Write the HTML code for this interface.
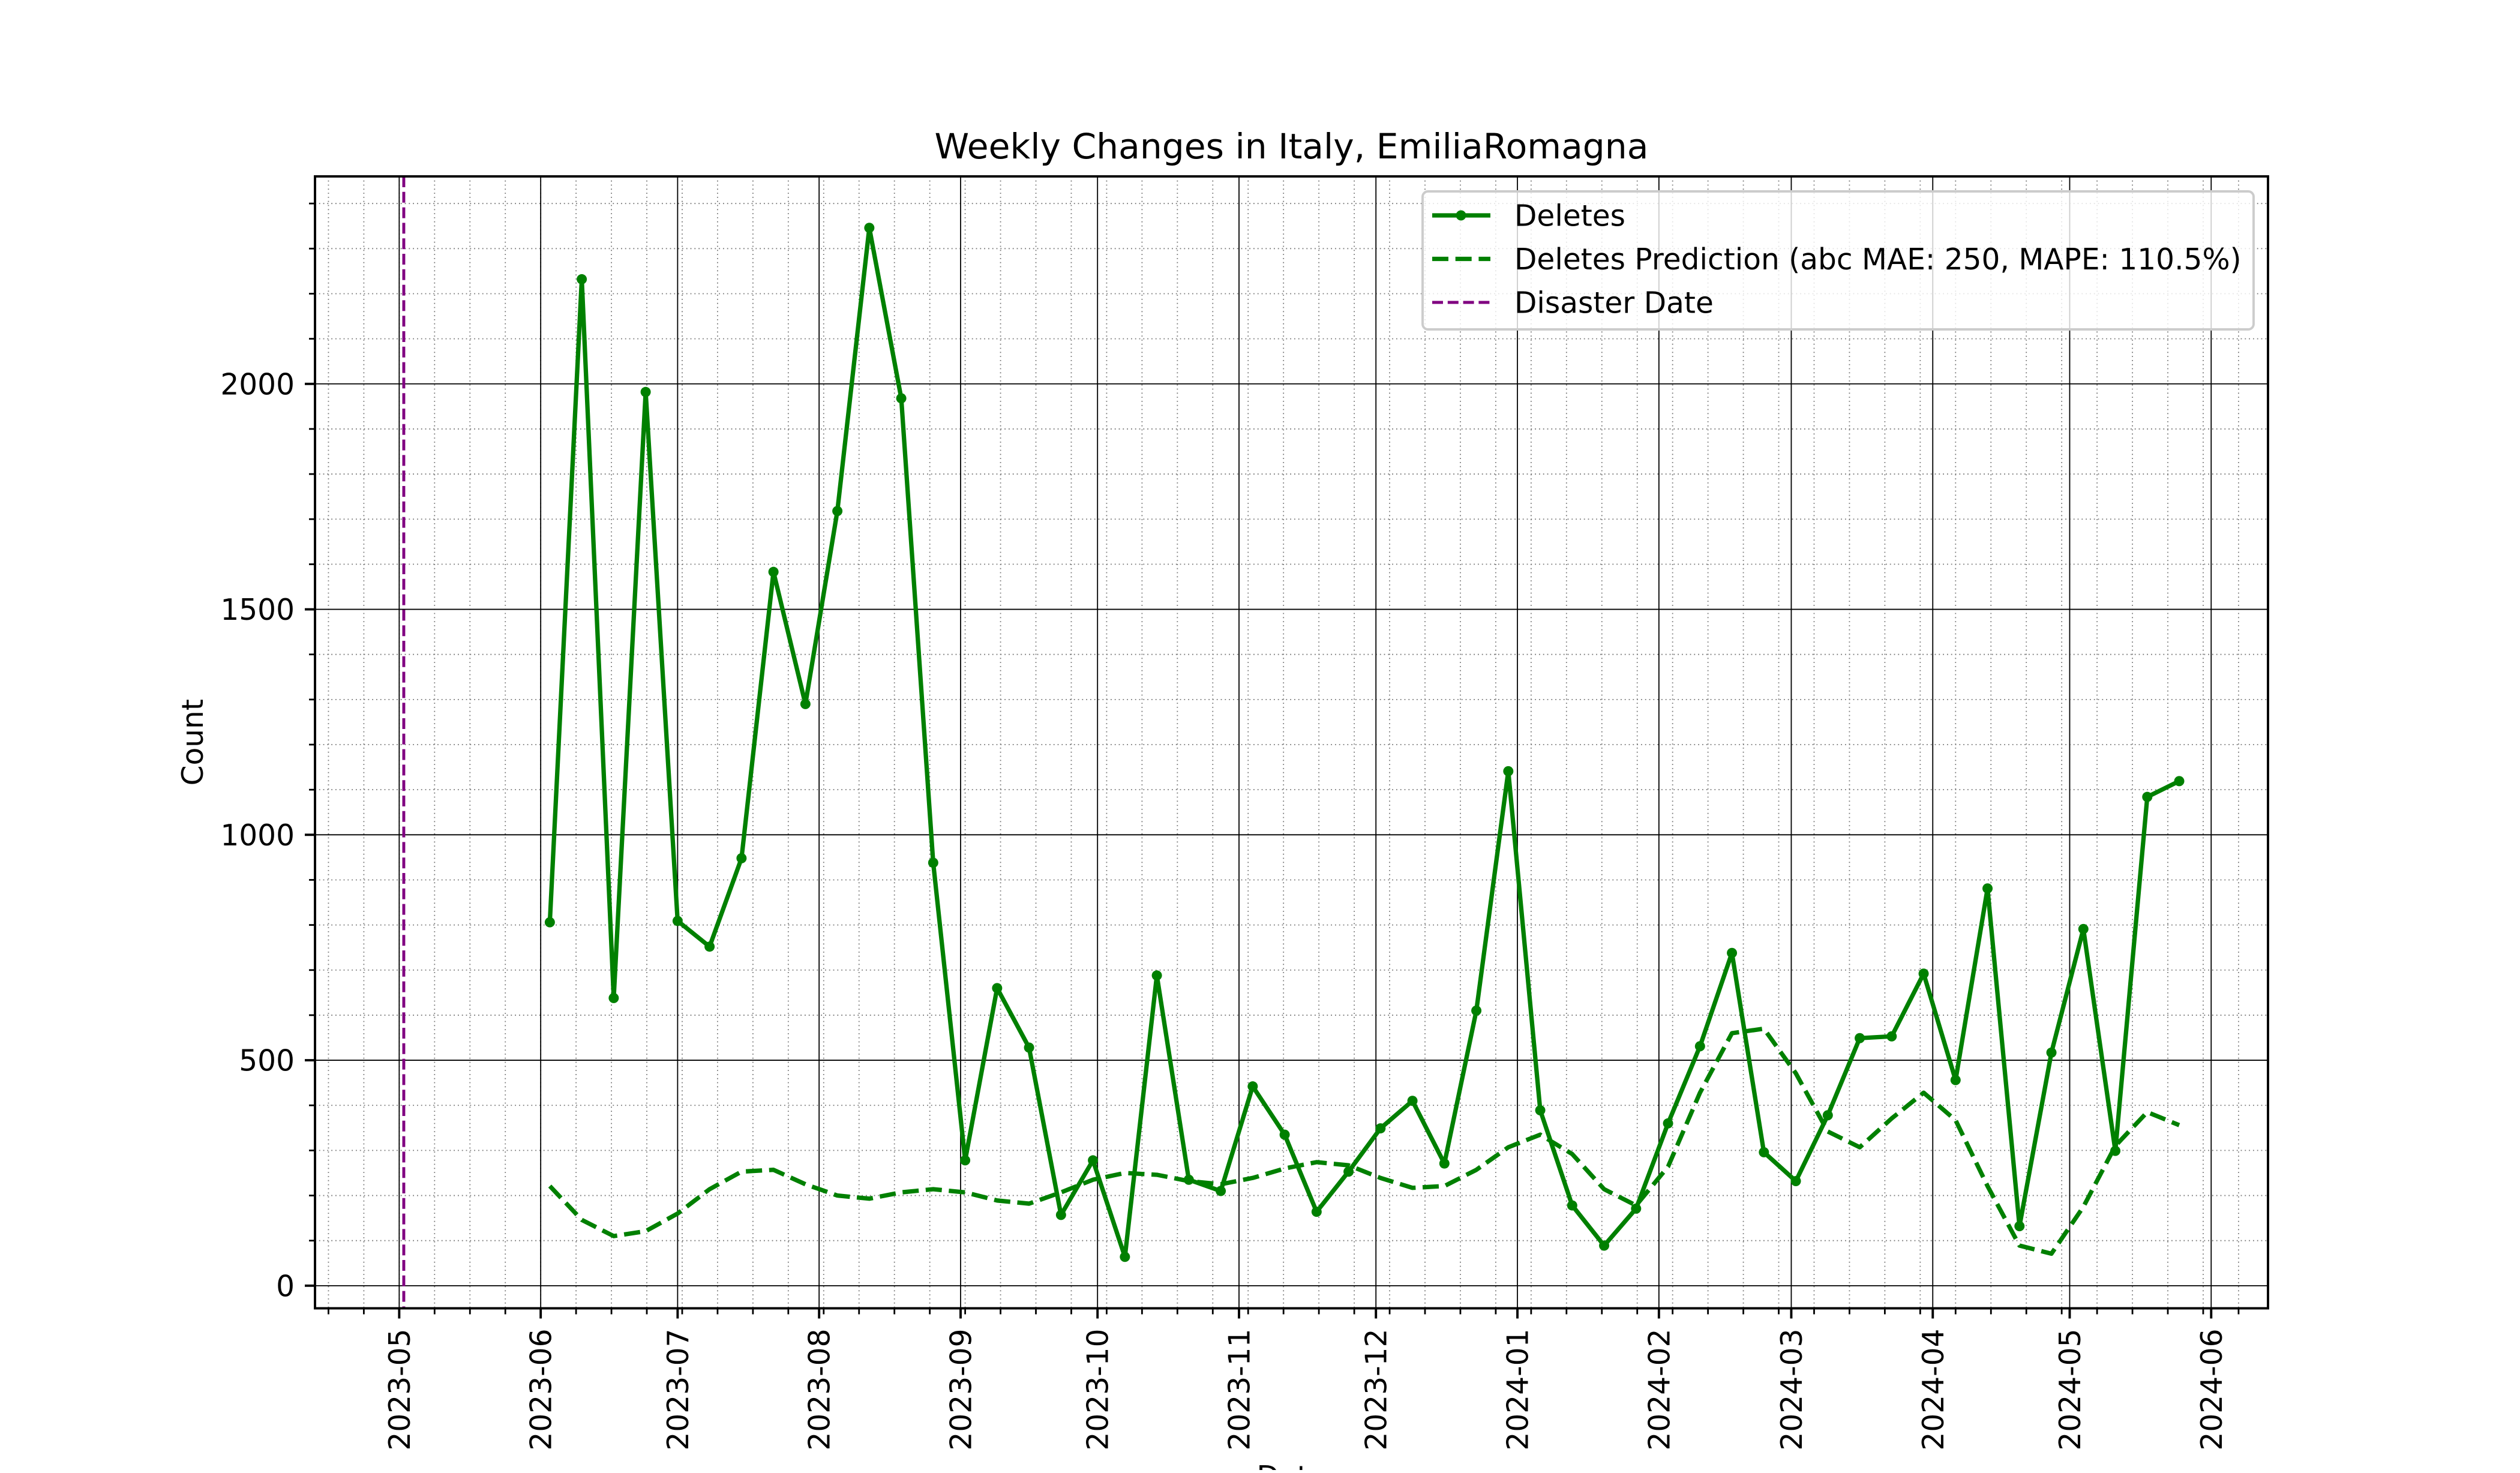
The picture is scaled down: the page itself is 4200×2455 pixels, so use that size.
<!DOCTYPE html>
<html><head><meta charset="utf-8"><style>
html,body{margin:0;padding:0;background:#fff;}
svg text{font-family:"DejaVu Sans","Liberation Sans",sans-serif;fill:#000;}
</style></head><body>
<svg id="chart" width="4200" height="2450" viewBox="0 0 4200 2450" xmlns="http://www.w3.org/2000/svg">
<rect x="0" y="0" width="4200" height="2450" fill="#fff"/>
<g id="grid"></g><g id="series"></g><g id="axes"></g><g id="legend"></g>
</svg>
<script>
const dates = ["2023-06-03","2023-06-10","2023-06-17","2023-06-24","2023-07-01","2023-07-08","2023-07-15","2023-07-22","2023-07-29","2023-08-05","2023-08-12","2023-08-19","2023-08-26","2023-09-02","2023-09-09","2023-09-16","2023-09-23","2023-09-30","2023-10-07","2023-10-14","2023-10-21","2023-10-28","2023-11-04","2023-11-11","2023-11-18","2023-11-25","2023-12-02","2023-12-09","2023-12-16","2023-12-23","2023-12-30","2024-01-06","2024-01-13","2024-01-20","2024-01-27","2024-02-03","2024-02-10","2024-02-17","2024-02-24","2024-03-02","2024-03-09","2024-03-16","2024-03-23","2024-03-30","2024-04-06","2024-04-13","2024-04-20","2024-04-27","2024-05-04","2024-05-11","2024-05-18","2024-05-25"];
const deletes = [806,2232,638,1982,809,752,948,1583,1290,1718,2346,1968,938,278,660,528,157,278,64,688,235,210,442,335,164,253,349,410,271,610,1141,389,178,89,171,360,531,738,296,232,378,549,553,692,456,881,132,517,791,299,1084,1119];
const predicted = [221,146,110,121,160,214,253,257,225,200,193,207,214,207,189,182,207,235,250,246,232,225,239,260,274,267,239,217,221,257,307,335,292,214,178,264,428,560,570,471,342,307,371,428,367,221,89,71,175,310,385,356];
const disasterDate = "2023-05-02";
const monthTicks = ["2023-05","2023-06","2023-07","2023-08","2023-09","2023-10","2023-11","2023-12","2024-01","2024-02","2024-03","2024-04","2024-05","2024-06"];
const yTicks = [0,500,1000,1500,2000];

const NS="http://www.w3.org/2000/svg";
const L=525,R=3780,T=294,B=2180.5;
const FS=48.6;
const day=s=>{const p=s.split("-").map(Number);return (Date.UTC(p[0],p[1]-1,p[2]||1)-Date.UTC(2023,4,1))/86400000;};
const dd=dates.map(day);
const dmin=Math.min(day(disasterDate),...dd),dmax=Math.max(day(disasterDate),...dd);
const xpad=(dmax-dmin)*0.05,x0=dmin-xpad,x1=dmax+xpad;
const allv=deletes.concat(predicted);
const vmin=Math.min(...allv),vmax=Math.max(...allv),ypad=(vmax-vmin)*0.05;
const y0=vmin-ypad,y1=vmax+ypad;
const X=d=>L+(d-x0)/(x1-x0)*(R-L);
const Y=v=>B-(v-y0)/(y1-y0)*(B-T);
function mk(tag,attrs,parent){const e=document.createElementNS(NS,tag);for(const k in attrs)e.setAttribute(k,attrs[k]);parent.appendChild(e);return e;}
const grid=document.getElementById("grid"),series=document.getElementById("series"),axes=document.getElementById("axes"),legend=document.getElementById("legend");

const mstep=31/4;
for(let k=Math.ceil((x0)/mstep);k*mstep<=x1;k++){
  const xx=X(k*mstep);
  const g=mk("line",{x1:xx,x2:xx,y1:T,y2:B,stroke:"#777","stroke-width":1.8,"stroke-dasharray":"1.8 5"},grid);
  
  
  const t=mk("line",{x1:xx,x2:xx,y1:B,y2:B+10,stroke:"#000","stroke-width":2.8},axes);
  
  
}
for(let v=0;v<=y1;v+=100){
  if(v%500===0)continue;
  const yy=Y(v);
  const g=mk("line",{x1:L,x2:R,y1:yy,y2:yy,stroke:"#777","stroke-width":1.8,"stroke-dasharray":"1.8 5"},grid);
  
  
  const t=mk("line",{x1:L-10,x2:L,y1:yy,y2:yy,stroke:"#000","stroke-width":2.8},axes);
  
  
}
monthTicks.forEach(m=>{
  const xx=X(day(m));
  const g=mk("line",{x1:xx,x2:xx,y1:T,y2:B,stroke:"#000","stroke-width":1.8},grid);
  
  
  const t=mk("line",{x1:xx,x2:xx,y1:B,y2:B+17,stroke:"#000","stroke-width":3.9},axes);
  
  
  const tx=mk("text",{x:0,y:0,"font-size":FS,"text-anchor":"end",transform:`translate(${xx+17.5},${B+34}) rotate(-90)`},axes);
  tx.textContent=m;
  
  
});
yTicks.forEach(v=>{
  const yy=Y(v);
  const g=mk("line",{x1:L,x2:R,y1:yy,y2:yy,stroke:"#000","stroke-width":1.8},grid);
  
  
  const t=mk("line",{x1:L-17,x2:L,y1:yy,y2:yy,stroke:"#000","stroke-width":3.9},axes);
  
  
  const tx=mk("text",{x:L-34,y:yy+17.5,"font-size":FS,"text-anchor":"end"},axes);
  tx.textContent=String(v);
  
  
});
const dx=X(day(disasterDate));
const dl=mk("line",{x1:dx,x2:dx,y1:T,y2:B,stroke:"#800080","stroke-width":4.9,"stroke-dasharray":"18 7.8"},series);


const pp=mk("polyline",{points:predicted.map((v,i)=>X(dd[i])+","+Y(v)).join(" "),fill:"none",stroke:"#008000","stroke-width":7.3,"stroke-dasharray":"27 11.7","stroke-linejoin":"round"},series);


const dp=mk("polyline",{points:deletes.map((v,i)=>X(dd[i])+","+Y(v)).join(" "),fill:"none",stroke:"#008000","stroke-width":7.3,"stroke-linejoin":"round"},series);


deletes.forEach((v,i)=>{
  const c=mk("circle",{cx:X(dd[i]),cy:Y(v),r:8.5,fill:"#008000"},series);
  
  
});
const sp=mk("rect",{x:L,y:T,width:R-L,height:B-T,fill:"none",stroke:"#000","stroke-width":3.9},axes);


const tt=mk("text",{x:(L+R)/2,y:264,"font-size":58.3,"text-anchor":"middle"},axes);
tt.textContent="Weekly Changes in Italy, EmiliaRomagna";


const yl=mk("text",{x:0,y:0,"font-size":FS,"text-anchor":"middle",transform:`translate(338,${(T+B)/2}) rotate(-90)`},axes);
yl.textContent="Count";


const xl=mk("text",{x:(L+R)/2,y:2478,"font-size":FS,"text-anchor":"middle"},axes);
xl.textContent="Date";


const lb=mk("rect",{x:2371,y:319,width:1385,height:230,rx:9,fill:"#fff","fill-opacity":0.8,stroke:"#ccc","stroke-width":3.9},legend);


const rows=[["Deletes","solid","#008000",7.3,"none"],["Deletes Prediction (abc MAE: 250, MAPE: 110.5%)","dash","#008000",7.3,"27 11.7"],["Disaster Date","dash2","#800080",4.9,"18 7.8"]];
rows.forEach((r,i)=>{
  const yy=359+i*72.5;
  const ln=mk("line",{x1:2387,x2:2484,y1:yy,y2:yy,stroke:r[2],"stroke-width":r[3]},legend);
  if(r[4]!=="none")ln.setAttribute("stroke-dasharray",r[4]);
  
  
  if(r[1]==="solid"){const c=mk("circle",{cx:2435,cy:yy,r:8.5,fill:"#008000"},legend);
    
    }
  const t=mk("text",{x:2524,y:yy+17.5,"font-size":FS},legend);
  t.textContent=r[0];
  
  
});
</script>
</body></html>
